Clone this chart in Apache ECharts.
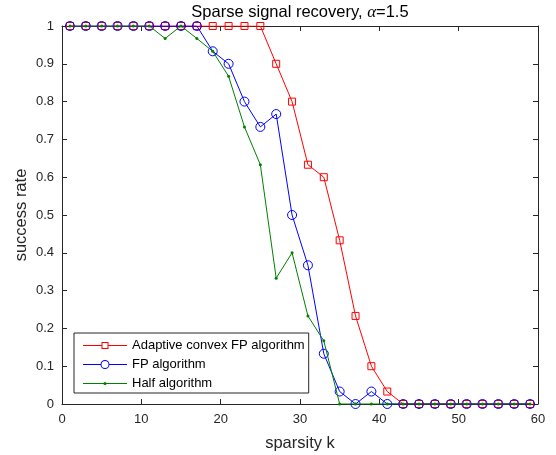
<!DOCTYPE html>
<html>
<head>
<meta charset="utf-8">
<script src="https://cdn.jsdelivr.net/npm/echarts@6/dist/echarts.min.js"></script>
<style>html,body{margin:0;padding:0;background:#fff}#c{width:556px;height:455px}</style>
</head>
<body>
<div id="c"></div>
<script>
var kValues = [1,3,5,7,9,11,13,15,17,19,21,23,25,27,29,31,33,35,37,39,41,43,45,47,49,51,53,55,57,59];
var adaptiveFP = [1,1,1,1,1,1,1,1,1,1,1,1,1,0.9,0.8,0.633,0.6,0.433,0.233,0.1,0.033,0,0,0,0,0,0,0,0,0];
var fpAlg = [1,1,1,1,1,1,1,1,1,0.933,0.9,0.8,0.733,0.767,0.5,0.367,0.133,0.033,0,0.033,0,0,0,0,0,0,0,0,0,0];
var halfAlg = [1,1,1,1,1,1,0.967,1,0.967,0.933,0.867,0.733,0.633,0.333,0.4,0.233,0.167,0,0,0,0,0,0,0,0,0,0,0,0,0];
var seriesNames = ['Adaptive convex FP algorithm','FP algorithm','Half algorithm'];

function pairs(ys){ return kValues.map(function(k,i){ return [k, ys[i]]; }); }

var FONT = "'Liberation Sans', Arial, Helvetica, sans-serif";
var AX = '#262626';
var RED = '#ff0000', BLUE = '#0000ff', GREEN = '#008000';
// legend glyphs (44x10 box): line with open square / open circle / small dot
var iconSquare = 'path://M0,0M44,10M0,4.5L18.5,4.5L18.5,5.5L0,5.5ZM25.5,4.5L44,4.5L44,5.5L25.5,5.5Z' +
  'M18.5,1.5L25.5,1.5L25.5,8.5L18.5,8.5ZM19.5,2.5L19.5,7.5L24.5,7.5L24.5,2.5Z';
var iconCircle = 'path://M0,0M44,10M0,4.5L17.5,4.5L17.5,5.5L0,5.5ZM26.5,4.5L44,4.5L44,5.5L26.5,5.5Z' +
  'M22,0.5A4.5,4.5,0,1,1,22,9.5A4.5,4.5,0,1,1,22,0.5Z' +
  'M22,1.5A3.5,3.5,0,1,0,22,8.5A3.5,3.5,0,1,0,22,1.5Z';
var iconDot = 'path://M0,0M44,10M0,4.5L44,4.5L44,5.5L0,5.5ZM22,3.4A1.6,1.6,0,1,1,22,6.6A1.6,1.6,0,1,1,22,3.4Z';
var chart = echarts.init(document.getElementById('c'), null, {renderer:'canvas'});
function frameAxis(extra){
  return Object.assign({
    axisLine:{show:true, onZero:false, lineStyle:{color:AX, width:1}},
    axisTick:{show:true, inside:true, length:5, lineStyle:{color:AX}},
    axisLabel:{show:false}, splitLine:{show:false}
  }, extra);
}
chart.setOption({
  animation:false,
  backgroundColor:'#fff',
  title:{
    text:'Sparse signal recovery, {a|α}=1.5',
    left:300, top:4, textAlign:'center', padding:0,
    textStyle:{fontFamily:FONT, fontSize:16.5, fontWeight:'normal', color:'#000',
      rich:{a:{fontFamily:"'Liberation Serif','DejaVu Serif',serif", fontStyle:'italic', fontSize:17, color:'#000'}}}
  },
  grid:{left:62, right:18, top:26, bottom:51, containLabel:false, outerBoundsMode:'none'},
  legend:{
    orient:'vertical', left:74, top:333,
    padding:[6,4,3,9], itemGap:6, itemWidth:44, itemHeight:10,
    backgroundColor:'#fff', borderColor:'#262626', borderWidth:1, borderRadius:0,
    textStyle:{fontFamily:FONT, fontSize:13, color:'#000'},
    data:[
      {name:seriesNames[0], icon:iconSquare, itemStyle:{color:RED, borderWidth:0}},
      {name:seriesNames[1], icon:iconCircle, itemStyle:{color:BLUE, borderWidth:0}},
      {name:seriesNames[2], icon:iconDot, itemStyle:{color:GREEN, borderWidth:0}}
    ]
  },
  xAxis:[
    {type:'value', min:0, max:60, interval:10, position:'bottom',
     name:'sparsity k', nameLocation:'middle', nameGap:31, nameMoveOverlap:false,
     nameTextStyle:{fontFamily:FONT, fontSize:16.5, color:AX},
     axisLine:{show:true, onZero:false, lineStyle:{color:AX, width:1}},
     axisTick:{show:true, inside:true, length:5, lineStyle:{color:AX}},
     axisLabel:{fontFamily:FONT, fontSize:13, color:AX, margin:9},
     splitLine:{show:false}},
    frameAxis({type:'value', min:0, max:60, interval:10, position:'top'})
  ],
  yAxis:[
    {type:'value', min:0, max:1, interval:0.1, position:'left',
     name:'success rate', nameLocation:'middle', nameGap:32, nameMoveOverlap:false,
     nameTextStyle:{fontFamily:FONT, fontSize:16.5, color:AX},
     axisLine:{show:true, onZero:false, lineStyle:{color:AX, width:1}},
     axisTick:{show:true, inside:true, length:5, lineStyle:{color:AX}},
     axisLabel:{fontFamily:FONT, fontSize:13, color:AX, margin:8},
     splitLine:{show:false}},
    frameAxis({type:'value', min:0, max:1, interval:0.1, position:'right'})
  ],
  series:[
    {name:seriesNames[0], type:'line', data:pairs(adaptiveFP), xAxisIndex:0, yAxisIndex:0,
     symbol:'rect', symbolSize:7, showAllSymbol:true,
     lineStyle:{color:RED, width:1},
     itemStyle:{color:'rgba(255,255,255,0)', borderColor:RED, borderWidth:1}, z:2},
    {name:seriesNames[1], type:'line', data:pairs(fpAlg), xAxisIndex:0, yAxisIndex:0,
     symbol:'circle', symbolSize:9, showAllSymbol:true,
     lineStyle:{color:BLUE, width:1},
     itemStyle:{color:'rgba(255,255,255,0)', borderColor:BLUE, borderWidth:1}, z:3},
    {name:seriesNames[2], type:'line', data:pairs(halfAlg), xAxisIndex:0, yAxisIndex:0,
     symbol:'circle', symbolSize:3, showAllSymbol:true,
     lineStyle:{color:GREEN, width:1},
     itemStyle:{color:GREEN, borderColor:GREEN, borderWidth:0}, z:4}
  ]
});
</script>
</body>
</html>
